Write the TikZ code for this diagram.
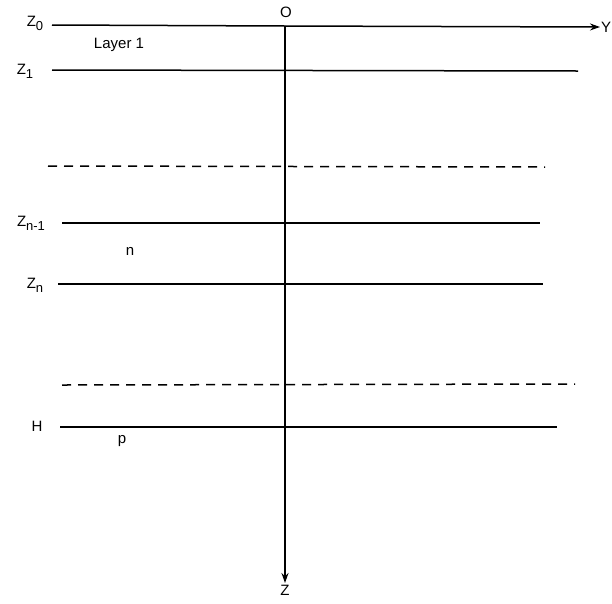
\documentclass[tikz,border=0pt]{standalone}
\usepackage{fontspec}
\setmainfont{Liberation Sans}
\usepackage{tikz}
\usetikzlibrary{arrows.meta, positioning}

\newcommand{\zlab}[1]{Z\raisebox{-4pt}{\fontsize{13}{13}\selectfont #1}}

\begin{document}
\begin{tikzpicture}[x=1pt, y=-1pt,
   layer/.style={line width=1.5pt},
   bound/.style={line width=1.5pt, dashed, dash pattern=on 9pt off 7pt},
   axis/.style={line width=1.5pt, -{Stealth[length=10pt, width=7pt]}},
   lab/.style={font=\fontsize{15}{17}\selectfont, inner sep=1pt}]
\useasboundingbox (0,0) rectangle (612,603);

% axes
\coordinate (o) at (285,26);
\coordinate (yend) at (600,27);
\coordinate (zend) at (285,583);
\coordinate (z0l) at (52,25);
\draw[layer] (z0l) -- (o);
\draw[axis] (o) -- (yend);
\draw[axis] (o) -- (zend);
\node[lab] (olab) at (286,12) {O};
\node[lab, right=0pt of yend] (ylab) {Y};
\node[lab, below=1pt of zend] (zlab) {Z};

% interfaces
\coordinate (z1l) at (52,70);   \coordinate (z1r) at (578,71);
\coordinate (d1l) at (48,166);  \coordinate (d1r) at (545,167);
\coordinate (znml) at (62,223); \coordinate (znmr) at (540,223);
\coordinate (znl) at (58,284);  \coordinate (znr) at (543,284);
\coordinate (d2l) at (62,385);  \coordinate (d2r) at (575,384);
\coordinate (hl) at (60,427);   \coordinate (hr) at (557,427);
\draw[layer] (z1l) -- (z1r);
\draw[bound] (d1l) -- (d1r);
\draw[layer] (znml) -- (znmr);
\draw[layer] (znl) -- (znr);
\draw[bound] (d2l) -- (d2r);
\draw[layer] (hl) -- (hr);

% labels
\node[lab] (z0) at (35,23) {\zlab{0}};
\node[lab] (z1) at (25,71) {\zlab{1}};
\node[lab] (znm) at (31,223) {\zlab{n-1}};
\node[lab] (zn) at (35,285) {\zlab{n}};
\node[lab] (h) at (37,426) {H};
\node[lab] (lay1) at (119,45) {Layer 1};
\node[lab] (n) at (130,251) {n};
\node[lab] (p) at (122,441) {p};
\end{tikzpicture}
\end{document}
